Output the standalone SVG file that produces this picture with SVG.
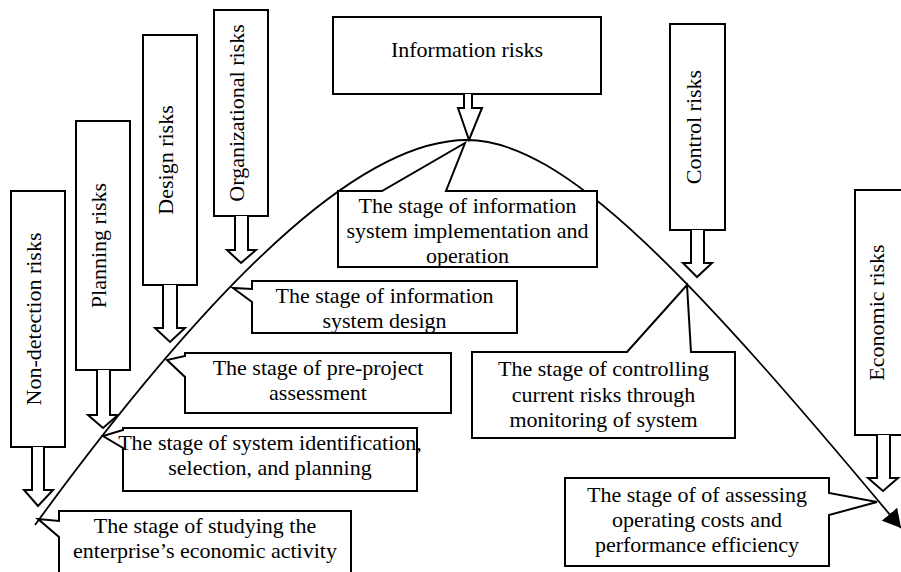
<svg xmlns="http://www.w3.org/2000/svg" width="901" height="572" viewBox="0 0 901 572">
<style>
.bx{fill:#fff;stroke:#000;stroke-width:2;stroke-linejoin:miter}
.ar{fill:#fff;stroke:#000;stroke-width:2;stroke-linejoin:miter}
.t{font-family:"Liberation Serif","Times New Roman",serif;font-size:22px;fill:#000;text-anchor:middle}
.curve{fill:none;stroke:#000;stroke-width:1.8}
</style>
<defs>
<marker id="ah" markerUnits="userSpaceOnUse" markerWidth="18" markerHeight="20" viewBox="0 0 18 20" refX="18" refY="10" orient="auto">
<path d="M0,0 L18,10 L0,20 Z" fill="#000"/>
</marker>
</defs>
<rect width="901" height="572" fill="#fff"/>

<g id="connectors">
<path class="curve" d="M35,525 C235,251 371,140 467,140 C564,140 692,277 901,528" marker-end="url(#ah)"/>
</g>

<g id="risk-nondetection">
<rect class="bx" x="11" y="191" width="54" height="256"/>
<path class="ar" d="M32,447 V490 H24 L38,506 L53,490 H44 V447"/>
<text class="t" transform="translate(41,319) rotate(-90)">Non-detection risks</text>
</g>
<g id="risk-planning">
<rect class="bx" x="76" y="121" width="54" height="249"/>
<path class="ar" d="M97,370 V415 H88 L103,428 L118,415 H110 V370"/>
<text class="t" transform="translate(106,245.5) rotate(-90)">Planning risks</text>
</g>
<g id="risk-design">
<rect class="bx" x="143" y="35" width="54" height="250"/>
<path class="ar" d="M163,285 V328 H155 L170,342 L185,328 H177 V285"/>
<text class="t" transform="translate(173,160) rotate(-90)">Design risks</text>
</g>
<g id="risk-organizational">
<rect class="bx" x="214" y="10" width="54" height="206"/>
<path class="ar" d="M235,216 V250 H227 L241,263 L256,250 H248 V216"/>
<text class="t" transform="translate(244,113) rotate(-90)">Organizational risks</text>
</g>
<g id="risk-information">
<rect class="bx" x="333" y="17" width="268" height="77"/>
<path class="ar" d="M464,94 V108 H458 L469,140 L482,108 H472 V94"/>
<text class="t" x="467" y="57">Information risks</text>
</g>
<g id="risk-control">
<rect class="bx" x="670" y="24" width="55" height="206"/>
<path class="ar" d="M691,230 V263 H683 L697,277 L712,263 H704 V230"/>
<text class="t" transform="translate(700.5,127) rotate(-90)">Control risks</text>
</g>
<g id="risk-economic">
<rect class="bx" x="855" y="190" width="54" height="245"/>
<path class="ar" d="M877,435 V478 H868 L883,491 L898,478 H890 V435"/>
<text class="t" transform="translate(884,312.5) rotate(-90)">Economic risks</text>
</g>

<g id="stage-studying">
<path class="bx" d="M59,511 H351 V580 H59 V537 L38,519 L59,521 Z"/>
<text class="t" x="205" y="533">The stage of studying the</text>
<text class="t" x="205" y="558">enterprise’s economic activity</text>
</g>
<g id="stage-identification">
<path class="bx" d="M123,428 H417 V491 H123 V448 L103,436 L123,430 Z"/>
<text class="t" x="270" y="450">The stage of system identification,</text>
<text class="t" x="270" y="475">selection, and planning</text>
</g>
<g id="stage-preproject">
<path class="bx" d="M185,353 H451 V413 H185 V377 L167,360 L185,356 Z"/>
<text class="t" x="318" y="375">The stage of pre-project</text>
<text class="t" x="318" y="400">assessment</text>
</g>
<g id="stage-design">
<path class="bx" d="M252,281 H517 V333 H252 V302 L233,288 L252,289 Z"/>
<text class="t" x="384.5" y="303">The stage of information</text>
<text class="t" x="384.5" y="328">system design</text>
</g>
<g id="stage-implementation">
<path class="bx" d="M338,191 H382 L465,143 L446,191 H597 V267 H338 Z"/>
<text class="t" x="467.5" y="213">The stage of information</text>
<text class="t" x="467.5" y="238">system implementation and</text>
<text class="t" x="467.5" y="263">operation</text>
</g>
<g id="stage-controlling">
<path class="bx" d="M472,352 H627 L687,285 L691,352 H735 V438 H472 Z"/>
<text class="t" x="603.5" y="376">The stage of controlling</text>
<text class="t" x="603.5" y="402">current risks through</text>
<text class="t" x="603.5" y="427">monitoring of system</text>
</g>
<g id="stage-assessing">
<path class="bx" d="M565,478 H829 V493 L877,502 L829,515 V566 H565 Z"/>
<text class="t" x="697" y="502">The stage of of assessing</text>
<text class="t" x="697" y="527">operating costs and</text>
<text class="t" x="697" y="552">performance efficiency</text>
</g>
</svg>
